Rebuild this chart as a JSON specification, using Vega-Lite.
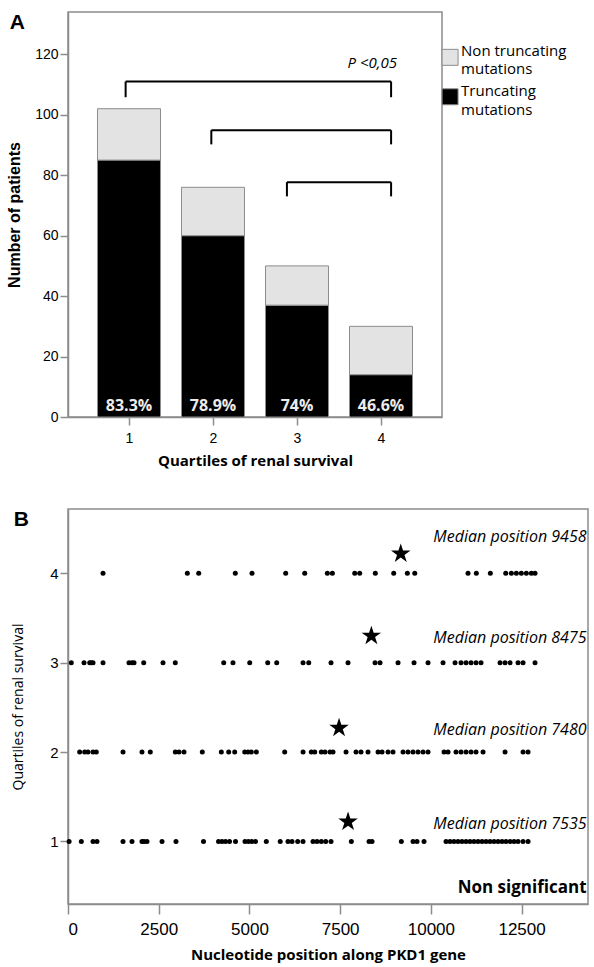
{
  "$schema": "https://vega.github.io/schema/vega-lite/v6.json",
  "padding": {"left": 5, "top": 11, "right": 5, "bottom": 5},
  "spacing": 39,
  "datasets": {
    "bars": [
      {"q": 1, "type": "Truncating mutations", "n": 85},
      {"q": 1, "type": "Non truncating mutations", "n": 17},
      {"q": 2, "type": "Truncating mutations", "n": 60},
      {"q": 2, "type": "Non truncating mutations", "n": 16},
      {"q": 3, "type": "Truncating mutations", "n": 37},
      {"q": 3, "type": "Non truncating mutations", "n": 13},
      {"q": 4, "type": "Truncating mutations", "n": 14},
      {"q": 4, "type": "Non truncating mutations", "n": 16}
    ],
    "pct": [
      {"q": 1, "label": "83.3%"},
      {"q": 2, "label": "78.9%"},
      {"q": 3, "label": "74%"},
      {"q": 4, "label": "46.6%"}
    ],
    "legsym": [
      {"type": "Non truncating mutations", "y": 119.0},
      {"type": "Truncating mutations", "y": 105.95}
    ],
    "legtext": [
      {"t": "Non truncating", "y": 121.2},
      {"t": "mutations", "y": 115.0},
      {"t": "Truncating", "y": 108.0},
      {"t": "mutations", "y": 101.7}
    ],
    "brackets": [
      {"x1": 0.96, "x2": 4.12, "top": 111, "bot": 105.8},
      {"x1": 1.98, "x2": 4.12, "top": 94.9, "bot": 90.2},
      {"x1": 2.88, "x2": 4.12, "top": 77.7, "bot": 73}
    ],
    "ptext": [{"label": "P <0,05", "x": 4.19, "y": 117}],
    "mut": [
      {"q": 4, "pos": 965}, {"q": 4, "pos": 3288}, {"q": 4, "pos": 3602}, {"q": 4, "pos": 4610}, {"q": 4, "pos": 5071},
      {"q": 4, "pos": 5999}, {"q": 4, "pos": 6524}, {"q": 4, "pos": 7147}, {"q": 4, "pos": 7285}, {"q": 4, "pos": 7902},
      {"q": 4, "pos": 8039}, {"q": 4, "pos": 8469}, {"q": 4, "pos": 8976}, {"q": 4, "pos": 9352}, {"q": 4, "pos": 9556},
      {"q": 4, "pos": 11024}, {"q": 4, "pos": 11253}, {"q": 4, "pos": 11639}, {"q": 4, "pos": 12063}, {"q": 4, "pos": 12218},
      {"q": 4, "pos": 12356}, {"q": 4, "pos": 12493}, {"q": 4, "pos": 12631}, {"q": 4, "pos": 12769}, {"q": 4, "pos": 12870},
      {"q": 3, "pos": 91}, {"q": 3, "pos": 441}, {"q": 3, "pos": 598}, {"q": 3, "pos": 642}, {"q": 3, "pos": 689},
      {"q": 3, "pos": 965}, {"q": 3, "pos": 1681}, {"q": 3, "pos": 1764}, {"q": 3, "pos": 1819}, {"q": 3, "pos": 2086},
      {"q": 3, "pos": 2618}, {"q": 3, "pos": 2957}, {"q": 3, "pos": 4291}, {"q": 3, "pos": 4547}, {"q": 3, "pos": 5008},
      {"q": 3, "pos": 5504}, {"q": 3, "pos": 5752}, {"q": 3, "pos": 6477}, {"q": 3, "pos": 6634}, {"q": 3, "pos": 7248},
      {"q": 3, "pos": 7717}, {"q": 3, "pos": 8461}, {"q": 3, "pos": 8599}, {"q": 3, "pos": 9095}, {"q": 3, "pos": 9536},
      {"q": 3, "pos": 9922}, {"q": 3, "pos": 10335}, {"q": 3, "pos": 10666}, {"q": 3, "pos": 10831}, {"q": 3, "pos": 10969},
      {"q": 3, "pos": 11107}, {"q": 3, "pos": 11245}, {"q": 3, "pos": 11382}, {"q": 3, "pos": 11906}, {"q": 3, "pos": 12044},
      {"q": 3, "pos": 12182}, {"q": 3, "pos": 12402}, {"q": 3, "pos": 12540}, {"q": 3, "pos": 12870},
      {"q": 2, "pos": 322}, {"q": 2, "pos": 460}, {"q": 2, "pos": 551}, {"q": 2, "pos": 689}, {"q": 2, "pos": 780},
      {"q": 2, "pos": 1516}, {"q": 2, "pos": 2039}, {"q": 2, "pos": 2268}, {"q": 2, "pos": 2957}, {"q": 2, "pos": 3059},
      {"q": 2, "pos": 3197}, {"q": 2, "pos": 3701}, {"q": 2, "pos": 4225}, {"q": 2, "pos": 4429}, {"q": 2, "pos": 4594},
      {"q": 2, "pos": 4870}, {"q": 2, "pos": 4961}, {"q": 2, "pos": 5052}, {"q": 2, "pos": 5190}, {"q": 2, "pos": 5972},
      {"q": 2, "pos": 6477}, {"q": 2, "pos": 6705}, {"q": 2, "pos": 6799}, {"q": 2, "pos": 6981}, {"q": 2, "pos": 7083},
      {"q": 2, "pos": 7221}, {"q": 2, "pos": 7303}, {"q": 2, "pos": 7662}, {"q": 2, "pos": 7937}, {"q": 2, "pos": 8075},
      {"q": 2, "pos": 8268}, {"q": 2, "pos": 8544}, {"q": 2, "pos": 8654}, {"q": 2, "pos": 8819}, {"q": 2, "pos": 8957},
      {"q": 2, "pos": 9233}, {"q": 2, "pos": 9370}, {"q": 2, "pos": 9508}, {"q": 2, "pos": 9646}, {"q": 2, "pos": 9784},
      {"q": 2, "pos": 9922}, {"q": 2, "pos": 10363}, {"q": 2, "pos": 10473}, {"q": 2, "pos": 10693}, {"q": 2, "pos": 10831},
      {"q": 2, "pos": 10969}, {"q": 2, "pos": 11107}, {"q": 2, "pos": 11245}, {"q": 2, "pos": 11438}, {"q": 2, "pos": 12044},
      {"q": 2, "pos": 12540}, {"q": 2, "pos": 12678},
      {"q": 1, "pos": 30}, {"q": 1, "pos": 367}, {"q": 1, "pos": 689}, {"q": 1, "pos": 799}, {"q": 1, "pos": 1516},
      {"q": 1, "pos": 1764}, {"q": 1, "pos": 2039}, {"q": 1, "pos": 2095}, {"q": 1, "pos": 2177}, {"q": 1, "pos": 2591},
      {"q": 1, "pos": 2976}, {"q": 1, "pos": 3734}, {"q": 1, "pos": 4148}, {"q": 1, "pos": 4244}, {"q": 1, "pos": 4341},
      {"q": 1, "pos": 4451}, {"q": 1, "pos": 4616}, {"q": 1, "pos": 4878}, {"q": 1, "pos": 4969}, {"q": 1, "pos": 5063},
      {"q": 1, "pos": 5167}, {"q": 1, "pos": 5465}, {"q": 1, "pos": 5848}, {"q": 1, "pos": 6063}, {"q": 1, "pos": 6173},
      {"q": 1, "pos": 6330}, {"q": 1, "pos": 6477}, {"q": 1, "pos": 6752}, {"q": 1, "pos": 6862}, {"q": 1, "pos": 6981},
      {"q": 1, "pos": 7102}, {"q": 1, "pos": 7248}, {"q": 1, "pos": 7808}, {"q": 1, "pos": 8296}, {"q": 1, "pos": 8378},
      {"q": 1, "pos": 9186}, {"q": 1, "pos": 9508}, {"q": 1, "pos": 9618}, {"q": 1, "pos": 9811}, {"q": 1, "pos": 10418},
      {"q": 1, "pos": 10528}, {"q": 1, "pos": 10638}, {"q": 1, "pos": 10748}, {"q": 1, "pos": 10858}, {"q": 1, "pos": 10969},
      {"q": 1, "pos": 11079}, {"q": 1, "pos": 11189}, {"q": 1, "pos": 11300}, {"q": 1, "pos": 11410}, {"q": 1, "pos": 11520},
      {"q": 1, "pos": 11630}, {"q": 1, "pos": 11741}, {"q": 1, "pos": 11851}, {"q": 1, "pos": 11961}, {"q": 1, "pos": 12071},
      {"q": 1, "pos": 12182}, {"q": 1, "pos": 12292}, {"q": 1, "pos": 12402}, {"q": 1, "pos": 12540}, {"q": 1, "pos": 12678}
    ],
    "med": [
      {"q": 4, "pos": 9170, "ys": 4.22, "label": "Median position 9458", "yl": 4.41},
      {"q": 3, "pos": 8360, "ys": 3.30, "label": "Median position 8475", "yl": 3.28},
      {"q": 2, "pos": 7470, "ys": 2.27, "label": "Median position 7480", "yl": 2.25},
      {"q": 1, "pos": 7718, "ys": 1.22, "label": "Median position 7535", "yl": 1.19}
    ],
    "ns": [{"label": "Non significant", "pos": 14290, "y": 0.477}]
  },
  "vconcat": [
    {
      "width": 374,
      "height": 405,
      "title": {"text": "A", "anchor": "start", "frame": "bounds", "font": "Liberation Sans", "fontSize": 21, "fontWeight": "bold", "color": "black", "offset": -21, "dx": 3},
      "layer": [
        {
          "data": {"name": "bars"},
          "mark": {"type": "bar", "width": 63, "stroke": "#8c8c8c", "strokeWidth": 1},
          "encoding": {
            "x": {"field": "q", "type": "quantitative", "scale": {"domain": [0.274, 4.726], "nice": false, "zero": false, "padding": 0},
              "axis": {"values": [1, 2, 3, 4], "format": "d", "title": "Quartiles of renal survival", "tickSize": 8, "labelPadding": 6, "labelFontSize": 14, "titleFontSize": 15, "titlePadding": 8}},
            "y": {"field": "n", "type": "quantitative", "stack": "zero", "scale": {"domain": [0, 134], "nice": false, "padding": 0},
              "axis": {"values": [0, 20, 40, 60, 80, 100, 120], "title": "Number of patients", "titleFont": "Liberation Sans", "tickSize": 8, "labelPadding": 2, "labelFontSize": 14, "titleFontSize": 16, "titlePadding": 12}},
            "color": {"field": "type", "type": "nominal",
              "scale": {"domain": ["Non truncating mutations", "Truncating mutations"], "range": ["#e3e3e3", "#000000"]},
              "legend": null},
            "order": {"field": "type", "type": "ordinal", "sort": "descending"}
          }
        },
        {
          "data": {"name": "legsym"},
          "mark": {"type": "square", "size": 256, "filled": true, "opacity": 1, "stroke": "#8c8c8c", "strokeWidth": 1},
          "encoding": {
            "x": {"datum": 4.822, "type": "quantitative"},
            "y": {"field": "y", "type": "quantitative"},
            "color": {"field": "type", "type": "nominal", "legend": null}
          }
        },
        {
          "data": {"name": "legtext"},
          "mark": {"type": "text", "font": "Open Sans", "fontSize": 15, "align": "left", "baseline": "middle", "color": "black"},
          "encoding": {
            "x": {"datum": 4.953, "type": "quantitative"},
            "y": {"field": "y", "type": "quantitative"},
            "text": {"field": "t"}
          }
        },
        {
          "data": {"name": "pct"},
          "mark": {"type": "text", "color": "#ececec", "font": "Open Sans", "fontWeight": "bold", "fontSize": 16, "baseline": "bottom", "dy": -3},
          "encoding": {
            "x": {"field": "q", "type": "quantitative"},
            "y": {"datum": 0, "type": "quantitative"},
            "text": {"field": "label"}
          }
        },
        {
          "data": {"name": "brackets"},
          "mark": {"type": "rule", "color": "black", "strokeWidth": 2},
          "encoding": {
            "x": {"field": "x1", "type": "quantitative"},
            "x2": {"field": "x2"},
            "y": {"field": "top", "type": "quantitative"}
          }
        },
        {
          "data": {"name": "brackets"},
          "mark": {"type": "rule", "color": "black", "strokeWidth": 2},
          "encoding": {
            "x": {"field": "x1", "type": "quantitative"},
            "y": {"field": "top", "type": "quantitative"},
            "y2": {"field": "bot"}
          }
        },
        {
          "data": {"name": "brackets"},
          "mark": {"type": "rule", "color": "black", "strokeWidth": 2},
          "encoding": {
            "x": {"field": "x2", "type": "quantitative"},
            "y": {"field": "top", "type": "quantitative"},
            "y2": {"field": "bot"}
          }
        },
        {
          "data": {"name": "ptext"},
          "mark": {"type": "text", "font": "Open Sans", "fontStyle": "italic", "fontSize": 15, "align": "right", "baseline": "middle", "color": "black"},
          "encoding": {
            "x": {"field": "x", "type": "quantitative"},
            "y": {"field": "y", "type": "quantitative"},
            "text": {"field": "label"}
          }
        }
      ]
    },
    {
      "width": 520,
      "height": 395,
      "title": {"text": "B", "anchor": "start", "frame": "bounds", "font": "Liberation Sans", "fontSize": 21, "fontWeight": "bold", "color": "black", "offset": -21, "dx": 2},
      "layer": [
        {
          "data": {"name": "mut"},
          "mark": {"type": "point", "shape": "circle", "filled": true, "color": "black", "opacity": 1, "size": 25},
          "encoding": {
            "x": {"field": "pos", "type": "quantitative", "scale": {"domain": [0, 14330], "nice": false, "zero": false, "padding": 0},
              "axis": {"values": [0, 2500, 5000, 7500, 10000, 12500], "format": "d", "title": "Nucleotide position along PKD1 gene", "tickSize": 10, "labelPadding": 7, "labelFontSize": 17, "titleFontSize": 15, "titlePadding": 10}},
            "y": {"field": "q", "type": "quantitative", "scale": {"domain": [0.3, 4.72], "nice": false, "zero": false, "padding": 0},
              "axis": {"values": [1, 2, 3, 4], "format": "d", "title": "Quartiles of renal survival", "titleFontWeight": "normal", "tickSize": 8, "labelPadding": 2, "labelFontSize": 15, "titleFontSize": 14, "titlePadding": 24}}
          }
        },
        {
          "data": {"name": "med"},
          "mark": {"type": "point", "shape": "M0,-1L0.2245,-0.309L0.951,-0.309L0.363,0.118L0.588,0.809L0,0.382L-0.588,0.809L-0.363,0.118L-0.951,-0.309L-0.2245,-0.309Z", "filled": true, "color": "black", "opacity": 1, "size": 420},
          "encoding": {
            "x": {"field": "pos", "type": "quantitative"},
            "y": {"field": "ys", "type": "quantitative"}
          }
        },
        {
          "data": {"name": "med"},
          "mark": {"type": "text", "font": "Open Sans", "fontStyle": "italic", "fontSize": 16, "align": "right", "baseline": "middle", "color": "black"},
          "encoding": {
            "x": {"datum": 14290, "type": "quantitative"},
            "y": {"field": "yl", "type": "quantitative"},
            "text": {"field": "label"}
          }
        },
        {
          "data": {"name": "ns"},
          "mark": {"type": "text", "font": "Open Sans", "fontWeight": "bold", "fontSize": 17, "align": "right", "baseline": "middle", "color": "black"},
          "encoding": {
            "x": {"field": "pos", "type": "quantitative"},
            "y": {"field": "y", "type": "quantitative"},
            "text": {"field": "label"}
          }
        }
      ]
    }
  ],
  "config": {
    "view": {"stroke": "#8c8c8c", "strokeWidth": 1.5},
    "axis": {"grid": false, "domainColor": "#8c8c8c", "tickColor": "#8c8c8c", "domainWidth": 1.5, "tickWidth": 1.5, "labelFont": "Liberation Sans", "labelColor": "black", "titleFont": "Open Sans", "titleColor": "black", "titleFontWeight": "bold"},
    "title": {"color": "black"}
  }
}
